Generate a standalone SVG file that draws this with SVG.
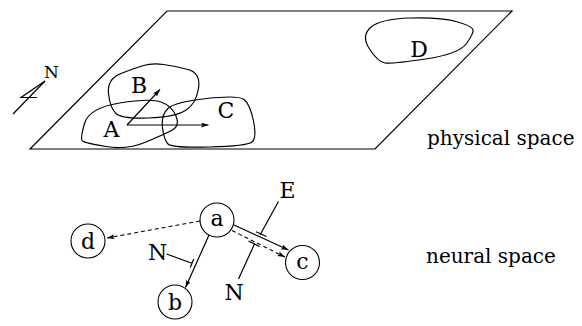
<svg xmlns="http://www.w3.org/2000/svg" width="582" height="326" viewBox="0 0 582 326">
<style>
.ln{fill:none;stroke:#000;stroke-width:1.2}
.blob{fill:none;stroke:#000;stroke-width:1.2;stroke-linejoin:round}
.dash{fill:none;stroke:#000;stroke-width:1.1;stroke-dasharray:4 3}
.circ{fill:#fff;stroke:#000;stroke-width:1.1}
.m{text-anchor:middle}
</style>
<defs>
<marker id="ah" markerUnits="userSpaceOnUse" markerWidth="10" markerHeight="8" refX="7.5" refY="2.5" orient="auto">
<path d="M0,0 L7.5,2.5 L0,5 L1.5,2.5 Z" fill="#000" stroke="none"/>
</marker>
</defs>
<rect width="582" height="326" fill="#fff"/>

<g font-family="DejaVu Serif, Liberation Serif, serif" font-size="22" fill="#000">

<g id="physical-space">
<polygon class="ln" points="167,11 512,11 375,149 30,149"/>
</g>

<g id="compass">
<path class="ln" d="M45,81 L21,97.5 L37,97.5"/>
<path class="ln" d="M13,114 L45,81"/>
<text class="m" x="51.5" y="77.5" font-size="17">N</text>
</g>

<g id="region-A">
<path class="blob" d="M84.5,123.5 Q89,108 119.5,103 Q150,98 161,102 Q172,106 176,116 Q180,126 172.5,130 Q165,134 146,142 Q127,150 106,146.5 Q85,143 82.5,141 Q80,139 84.5,123.5 Z"/>
<text class="m" x="111.5" y="137">A</text>
</g>

<g id="region-B">
<path class="blob" d="M108.5,93.5 Q110,108 116,113.5 Q122,119 148.5,118 Q175,117 185.5,110.5 Q196,104 198.5,88.5 Q201,73 188,69.5 Q175,66 163.5,64.5 Q152,63 143.5,65.5 Q135,68 121,73.5 Q107,79 108.5,93.5 Z"/>
<text class="m" x="139" y="92.5">B</text>
</g>

<g id="region-C">
<path class="blob" d="M168,108.5 Q175,102 206.5,98.5 Q238,95 244,99.5 Q250,104 253.5,121 Q257,138 252,142 Q247,146 209.5,147 Q172,148 168,144 Q164,140 162.5,127.5 Q161,115 168,108.5 Z"/>
<text class="m" x="226" y="118">C</text>
</g>

<g id="region-D">
<path class="blob" d="M370.5,27.5 Q380,19 410,18 Q440,17 456,21.5 Q472,26 473,29.5 Q474,33 466.5,43.5 Q459,54 425.5,59 Q392,64 385,63 Q378,62 369.5,49 Q361,36 370.5,27.5 Z"/>
<text class="m" x="419" y="56.5">D</text>
</g>

<g id="physical-arrows">
<line class="ln" x1="127" y1="125" x2="160" y2="89.5" marker-end="url(#ah)"/>
<line class="ln" x1="127" y1="125" x2="208.5" y2="125" marker-end="url(#ah)"/>
</g>

<g id="connectors">
<line class="dash" x1="200" y1="221" x2="107" y2="238" marker-end="url(#ah)"/>
<line class="ln" x1="209" y1="235" x2="185.5" y2="287.5" marker-end="url(#ah)"/>
<line class="ln" x1="234" y1="225" x2="288.5" y2="250" marker-end="url(#ah)"/>
<line class="dash" x1="232" y1="230.5" x2="285" y2="257" marker-end="url(#ah)"/>
<path class="ln" d="M166.5,254 L192,263.3 M190.2,267.6 L193.8,259"/>
<path class="ln" d="M278.5,201.5 L260,235 M256,231.8 L266.5,236.5"/>
<path class="ln" d="M238.5,279 L254.5,244 M248.5,241 L259.5,246.5"/>
</g>

<g id="node-a">
<circle class="circ" cx="217" cy="220" r="17"/>
<text class="m" x="217" y="226">a</text>
</g>
<g id="node-b">
<circle class="circ" cx="175" cy="302" r="17"/>
<text class="m" x="175" y="310">b</text>
</g>
<g id="node-c">
<circle class="circ" cx="302.5" cy="262.5" r="17"/>
<text class="m" x="302.5" y="268.5">c</text>
</g>
<g id="node-d">
<circle class="circ" cx="88" cy="241" r="17"/>
<text class="m" x="88" y="249">d</text>
</g>

<g id="labels">
<text class="m" x="157.5" y="260">N</text>
<text class="m" x="234" y="300">N</text>
<text class="m" x="287.5" y="198">E</text>
<text x="427" y="145" font-size="20">physical space</text>
<text x="426" y="263" font-size="20">neural space</text>
</g>

</g>
</svg>
